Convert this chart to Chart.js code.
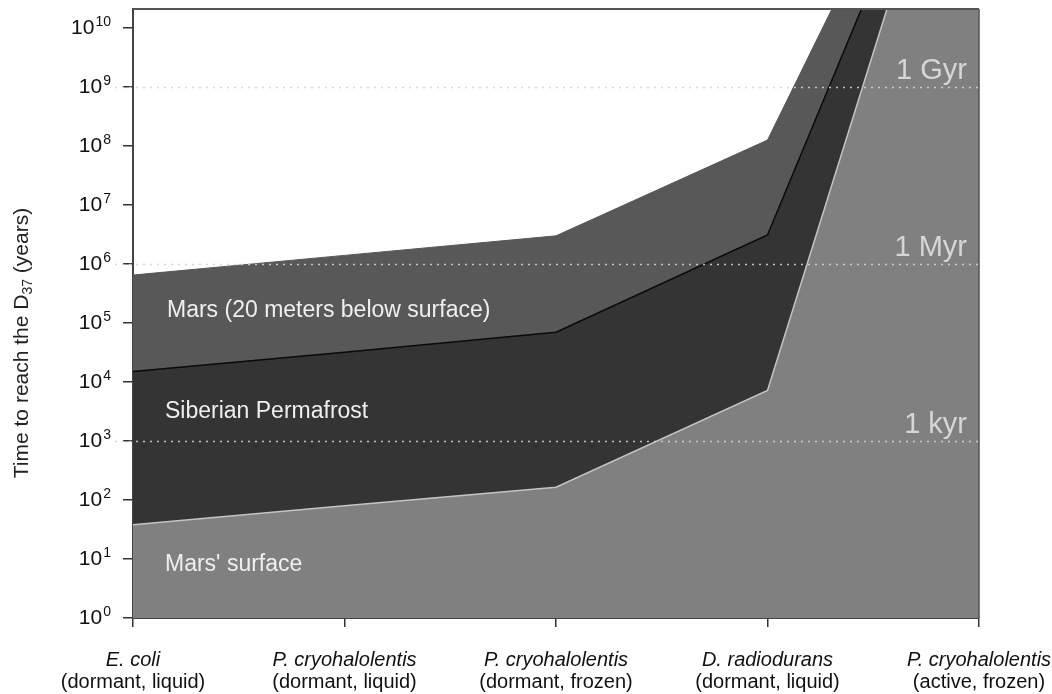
<!DOCTYPE html>
<html>
<head>
<meta charset="utf-8">
<script src="https://cdn.jsdelivr.net/npm/chart.js@4.4.1/dist/chart.umd.min.js"></script>
<style>
  html, body { margin: 0; padding: 0; background: #fff; }
  #wrap { width: 1052px; height: 694px; }
</style>
</head>
<body>
<div id="wrap"><canvas id="survival"></canvas></div>
<script>
// organisms on the x axis: species (italic) and state
const organisms = ['E. coli', 'P. cryohalolentis', 'P. cryohalolentis', 'D. radiodurans', 'P. cryohalolentis'];
const conditions = ['(dormant, liquid)', '(dormant, liquid)', '(dormant, frozen)', '(dormant, liquid)', '(active, frozen)'];

// years needed to reach the D37 dose in each environment
const marsSurface = [38, 80, 165, 7200, 2e15];
const siberianPermafrost = [1.5e4, 3.2e4, 7e4, 3.1e6, 1.3e15];
const marsSubsurface = [6.5e5, 1.4e6, 3e6, 1.26e8, 2.5e15];
const regionNames = ["Mars' surface", 'Siberian Permafrost', 'Mars (20 meters below surface)'];

// y axis: powers of ten
const tickExponents = [0, 1, 2, 3, 4, 5, 6, 7, 8, 9, 10];
const timeMarks = [1e3, 1e6, 1e9];
const timeMarkLabels = ['1 kyr', '1 Myr', '1 Gyr'];

const FONT = '"Liberation Sans", Arial, sans-serif';

// where the region names sit (value on the y axis, pixels right of the axis)
const regionLabelAt = [
    { y: 6.3, dx: 32 },
    { y: 2450, dx: 32 },
    { y: 1.26e5, dx: 34 },
];

const overlayPlugin = {
    id: 'overlay',
    afterDatasetsDraw(chart) {
        const { ctx, chartArea: a, scales: { y } } = chart;
        ctx.save();

        // dotted reference lines on top of the areas
        ctx.setLineDash([2, 5]);
        ctx.lineWidth = 1.5;
        ctx.strokeStyle = 'rgba(210,210,210,0.9)';
        timeMarks.forEach(v => {
            const py = Math.round(y.getPixelForValue(v)) + 0.5;
            ctx.beginPath();
            ctx.moveTo(a.left - 18, py);
            ctx.lineTo(a.right, py);
            ctx.stroke();
        });
        ctx.setLineDash([]);

        ctx.fillStyle = '#d6d6d6';
        ctx.font = `29px ${FONT}`;
        ctx.textAlign = 'right';
        ctx.textBaseline = 'alphabetic';
        timeMarks.forEach((v, i) => {
            ctx.fillText(timeMarkLabels[i], a.right - 12, y.getPixelForValue(v) - 8);
        });

        ctx.fillStyle = '#efefef';
        ctx.font = `23px ${FONT}`;
        ctx.textAlign = 'left';
        regionNames.forEach((name, i) => {
            const p = regionLabelAt[i];
            ctx.fillText(name, a.left + p.dx, y.getPixelForValue(p.y));
        });

        // top and right edges of the frame
        ctx.strokeStyle = '#555';
        ctx.lineWidth = 2;
        ctx.beginPath();
        ctx.moveTo(a.left, a.top);
        ctx.lineTo(a.right, a.top);
        ctx.stroke();
        ctx.lineWidth = 1.5;
        ctx.beginPath();
        ctx.moveTo(a.right, a.top);
        ctx.lineTo(a.right, a.bottom);
        ctx.stroke();
        ctx.restore();
    },
    afterDraw(chart) {
        const { ctx, chartArea: a, scales: { x, y } } = chart;
        ctx.save();
        ctx.fillStyle = '#111';

        // y tick labels: 10 with a raised exponent
        ctx.textBaseline = 'middle';
        ctx.textAlign = 'left';
        tickExponents.forEach(e => {
            const py = y.getPixelForValue(Math.pow(10, e));
            const exp = String(e);
            ctx.font = `21px ${FONT}`;
            const wb = ctx.measureText('10').width;
            ctx.font = `14px ${FONT}`;
            const we = ctx.measureText(exp).width;
            const left = a.left - 23 - wb - we;
            ctx.font = `21px ${FONT}`;
            ctx.fillText('10', left, py);
            ctx.font = `14px ${FONT}`;
            ctx.fillText(exp, left + wb + 1, py - 6);
        });

        // x labels: species in italics, state underneath
        ctx.textAlign = 'center';
        organisms.forEach((name, i) => {
            const px = x.getPixelForValue(i);
            ctx.font = `italic 20px ${FONT}`;
            ctx.fillText(name, px, 660);
            ctx.font = `20px ${FONT}`;
            ctx.fillText(conditions[i], px, 682);
        });

        // rotated y title with subscript
        const main = 'Time to reach the D', subTxt = '37', tail = ' (years)';
        ctx.translate(22, 343);
        ctx.rotate(-Math.PI / 2);
        ctx.textAlign = 'left';
        ctx.font = `21px ${FONT}`;
        const w1 = ctx.measureText(main).width, w3 = ctx.measureText(tail).width;
        ctx.font = `14px ${FONT}`;
        const w2 = ctx.measureText(subTxt).width;
        let cx = -(w1 + w2 + w3) / 2;
        ctx.fillStyle = '#222';
        ctx.font = `21px ${FONT}`;
        ctx.fillText(main, cx, 0);
        cx += w1;
        ctx.font = `14px ${FONT}`;
        ctx.fillText(subTxt, cx, 6);
        cx += w2;
        ctx.font = `21px ${FONT}`;
        ctx.fillText(tail, cx, 0);
        ctx.restore();
    }
};

new Chart(document.getElementById('survival'), {
    type: 'line',
    data: {
        labels: organisms,
        datasets: [
            {
                label: regionNames[0],
                data: marsSurface,
                fill: 'start',
                backgroundColor: '#808080',
                borderColor: '#c4c4c4',
                borderWidth: 1.5,
                pointRadius: 0,
            },
            {
                label: regionNames[1],
                data: siberianPermafrost,
                fill: 'start',
                backgroundColor: '#343434',
                borderColor: '#0a0a0a',
                borderWidth: 1.5,
                pointRadius: 0,
            },
            {
                label: regionNames[2],
                data: marsSubsurface,
                fill: 'start',
                backgroundColor: '#585858',
                borderColor: '#585858',
                borderWidth: 1,
                pointRadius: 0,
            },
        ]
    },
    options: {
        responsive: true,
        maintainAspectRatio: false,
        animation: false,
        layout: { padding: { top: 9, right: 73, left: 0, bottom: 0 } },
        scales: {
            x: {
                offset: false,
                grid: { drawOnChartArea: false, drawTicks: true, tickLength: 9, color: '#333', lineWidth: 1.5 },
                border: { color: '#444', width: 2 },
                ticks: { display: false },
                afterFit: s => { s.height = 76; s.paddingLeft = 0; s.paddingRight = 0; },
            },
            y: {
                type: 'logarithmic',
                min: 1,
                max: 2.1e10,
                grid: { drawOnChartArea: false, drawTicks: true, tickLength: 10, color: '#333', lineWidth: 1.5 },
                border: { color: '#444', width: 2 },
                afterBuildTicks: s => { s.ticks = tickExponents.map(e => ({ value: Math.pow(10, e) })); },
                ticks: { display: false },
                afterFit: s => { s.width = 133; s.paddingTop = 0; s.paddingBottom = 0; },
            }
        },
        plugins: {
            legend: { display: false },
            tooltip: { enabled: false },
        }
    },
    plugins: [overlayPlugin]
});
</script>
</body>
</html>
